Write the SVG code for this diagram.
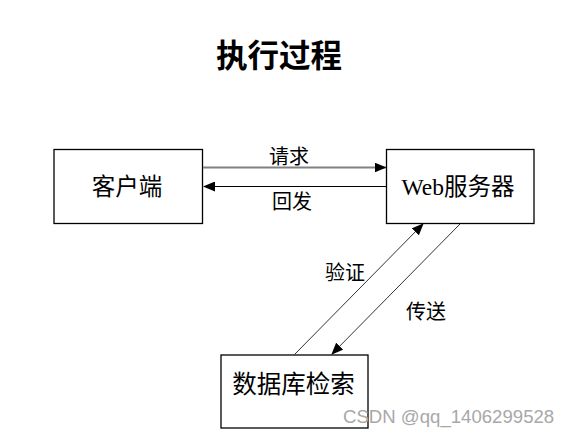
<svg xmlns="http://www.w3.org/2000/svg" width="569" height="437" viewBox="0 0 569 437">
<style>
.box{fill:#fff;stroke:#000;stroke-width:1.3}
.t{font-family:"Liberation Serif","Noto Sans CJK SC",serif;fill:#000;text-anchor:middle}
.lbl{font-size:20px}
.node{font-size:23.5px}
.ln{stroke:#333;stroke-width:1;fill:none}
</style>
<defs>
<marker id="ah" markerWidth="12" markerHeight="10" refX="11" refY="5" orient="auto" markerUnits="userSpaceOnUse">
<path d="M0,0 L12,5 L0,10 Z" fill="#000"/>
</marker>
</defs>
<rect width="569" height="437" fill="#fff"/>
<text x="279" y="67" class="t" style="font-size:31.5px;font-weight:bold">执行过程</text>
<g id="client">
<rect class="box" x="54" y="149.5" width="148.5" height="74"/>
<text x="127" y="195" class="t node">客户端</text>
</g>
<g id="web">
<rect class="box" x="386.5" y="149.5" width="147.5" height="74"/>
<text x="458" y="195" class="t node">Web服务器</text>
</g>
<g id="db">
<rect class="box" x="221" y="355" width="147" height="73"/>
<text x="293.5" y="393" class="t node" style="font-size:24.5px">数据库检索</text>
</g>
<g id="connectors">
<line x1="203" y1="167.5" x2="385.5" y2="167.5" stroke="#808080" stroke-width="2" marker-end="url(#ah)"/>
<line x1="386" y1="186.5" x2="204" y2="186.5" stroke="#000" stroke-width="1" marker-end="url(#ah)"/>
<line class="ln" x1="294.5" y1="354.5" x2="423" y2="224" marker-end="url(#ah)"/>
<line class="ln" x1="460" y1="224" x2="332" y2="354" marker-end="url(#ah)"/>
<text x="289" y="164" class="t lbl">请求</text>
<text x="292" y="209" class="t lbl">回发</text>
<text x="345" y="280" class="t lbl">验证</text>
<text x="426" y="319" class="t lbl">传送</text>
</g>
<text x="343" y="423" style="font-family:'Liberation Sans',Arial,sans-serif;font-size:18.6px;fill:#a8a8a8">CSDN @qq_1406299528</text>
</svg>
